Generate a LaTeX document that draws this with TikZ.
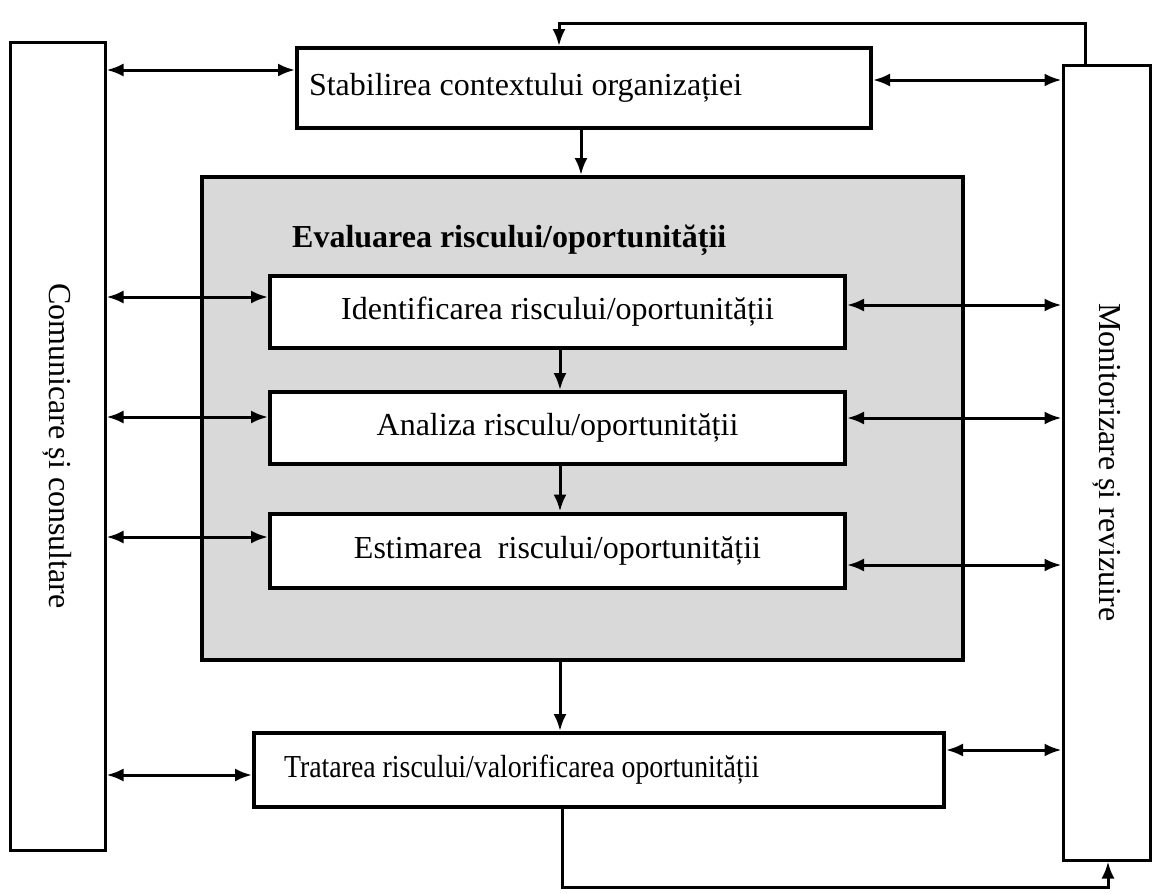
\documentclass[tikz,border=0pt]{standalone}
\usepackage{fontspec}
\usepackage{graphicx}
\setmainfont{Liberation Serif}
\usepackage{tikz}
\usetikzlibrary{arrows.meta, math}

\tikzset{
    box/.style={draw, rectangle, line width=4pt, inner sep=0pt, fill=white},
    link/.style={line width=3pt, >={Latex[length=17pt, width=13pt]}},
}

\begin{document}
\begin{tikzpicture}[x=1pt, y=-1pt, font=\fontsize{32}{38}\selectfont]
    \tikzmath{\xIn = 557.5; \yStab = 88; \yEval = 418.5; \yIdent = 312; \yAnal = 428; \yEstim = 550.5; \yTrat = 770;}
    \useasboundingbox (0,0) rectangle (1152,894);

    \node[box, line width=3pt, minimum width=95pt, minimum height=808pt](comm) at (57.5,446) {\rotatebox{-90}{Comunicare și consultare}};

    \node[box, line width=3pt, minimum width=87pt, minimum height=795pt](moni) at (1106.5,462.5) {\rotatebox{-90}{Monitorizare și revizuire}};

    \node[box, minimum width=574pt, minimum height=80pt, inner xsep=12pt](stab) at (584,\yStab) {\makebox[550pt][l]{Stabilirea contextului organizației}};

    \node[box, minimum width=761pt, minimum height=483pt, fill=black!15](eval) at (582.5,\yEval) {};

    \node[anchor=west, inner sep=0pt](eval-lbl) at (292,240) {\textbf{Evaluarea riscului/oportunității}};

    \node[box, minimum width=575pt, minimum height=72pt](ident) at (\xIn,\yIdent) {Identificarea riscului/oportunității};

    \node[box, minimum width=575pt, minimum height=72pt](anal) at (\xIn,\yAnal) {Analiza risculu/oportunității};

    \node[box, minimum width=575pt, minimum height=74pt](estim) at (\xIn,\yEstim) {Estimarea\ \ riscului/oportunității};

    \node[box, minimum width=690pt, minimum height=74pt, inner xsep=30pt](trat) at (599,\yTrat) {\makebox[630pt][l]{\scalebox{0.87}[1]{Tratarea riscului/valorificarea oportunității}}};

    \draw[link, <->] (comm.east |- 0,70) -- (stab.west |- 0,70);
    \draw[link, <->] (stab.east |- 0,80) -- (moni.west |- 0,80);
    \draw[link, <->] (comm.east |- 0,297) -- (ident.west |- 0,297);
    \draw[link, <->] (ident.east |- 0,305) -- (moni.west |- 0,305);
    \draw[link, <->] (comm.east |- 0,417) -- (anal.west |- 0,417);
    \draw[link, <->] (anal.east |- 0,418) -- (moni.west |- 0,418);
    \draw[link, <->] (comm.east |- 0,537) -- (estim.west |- 0,537);
    \draw[link, <->] (estim.east |- 0,565) -- (moni.west |- 0,565);
    \draw[link, <->] (comm.east |- 0,775) -- (trat.west |- 0,775);
    \draw[link, <->] (trat.east |- 0,750) -- (moni.west |- 0,750);

    \draw[link, ->] (stab.south -| 581,0) -- (eval.north -| 581,0);
    \draw[link, ->] (ident.south -| 560,0) -- (anal.north -| 560,0);
    \draw[link, ->] (anal.south -| 560,0) -- (estim.north -| 560,0);
    \draw[link, ->] (eval.south -| 560,0) -- (trat.north -| 560,0);
    \draw[link, ->] (moni.north -| 1085,0) |- (559,23) -- (stab.north -| 559,0);
    \draw[link, ->] (trat.south -| 562,0) |- (1108,887) -- (moni.south -| 1108,0);
\end{tikzpicture}
\end{document}
